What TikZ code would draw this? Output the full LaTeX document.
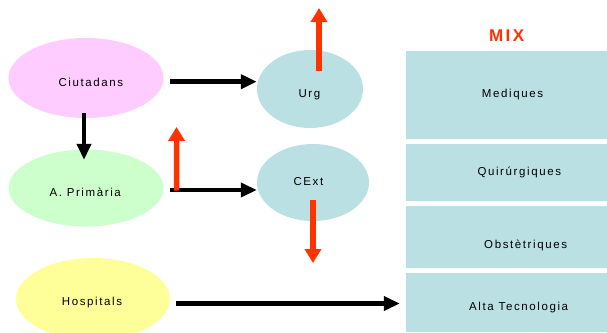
\documentclass[tikz,border=0pt]{standalone}
\usepackage{fontspec}
\setmainfont{Liberation Sans}[LetterSpace=14]
\usetikzlibrary{arrows.meta,shapes.geometric}
\definecolor{citizenpink}{HTML}{FFCCFF}
\definecolor{primarygreen}{HTML}{CCFFCC}
\definecolor{hospyellow}{HTML}{FFFF99}
\definecolor{servteal}{HTML}{BBE0E3}
\definecolor{leakred}{HTML}{FF3300}
\begin{document}
\begin{tikzpicture}[x=1pt,y=1pt,yscale=-1,xscale=1,
  bubble/.style={ellipse,draw=none,inner sep=0pt},
  panel/.style={rectangle,draw=none,fill=servteal,inner sep=0pt,minimum width=201pt},
  caption/.style={anchor=base west,inner sep=0pt,font=\fontsize{11.5}{13}\selectfont},
  flow/.style={line width=4.5pt,-{Triangle[length=16pt,width=14pt]}},
  leak/.style={draw=leakred,line width=5.5pt,-{Triangle[length=14pt,width=16pt]}}]
\useasboundingbox (0,0) rectangle (607,332);

%Shape: Ellipse [id:ciut]
\node [bubble,fill=citizenpink,minimum width=155pt,minimum height=80pt] (ciut) at (86,78) {};
%Shape: Ellipse [id:prim]
\node [bubble,fill=primarygreen,minimum width=155pt,minimum height=77pt] (prim) at (86,188) {};
%Shape: Ellipse [id:hosp]
\node [bubble,fill=hospyellow,minimum width=154pt,minimum height=82pt] (hosp) at (93,299) {};
%Shape: Ellipse [id:urg]
\node [bubble,fill=servteal,minimum width=106pt,minimum height=78pt] (urg) at (310,89) {};
%Shape: Ellipse [id:cext]
\node [bubble,fill=servteal,minimum width=112pt,minimum height=77pt] (cext) at (313,182.5) {};

%Shape: Rectangle [id:med]
\node [panel,minimum height=88pt] (med) at (506.5,95) {};
%Shape: Rectangle [id:quir]
\node [panel,minimum height=57pt] (quir) at (506.5,172.5) {};
%Shape: Rectangle [id:obst]
\node [panel,minimum height=62pt] (obst) at (506.5,237) {};
%Shape: Rectangle [id:alta]
\node [panel,minimum height=59pt] (alta) at (506.5,302.5) {};

%Straight Lines [id:ciut-urg]
\draw [flow] ([xshift=6.5pt,yshift=3.7pt]ciut.east) coordinate (c1) -- (c1 -| urg.west) ;
%Straight Lines [id:ciut-prim]
\draw [flow] ([xshift=-2pt,yshift=-5pt]ciut.south) coordinate (c2) -- ([yshift=10.5pt]c2 |- prim.north) ;
%Straight Lines [id:prim-cext]
\draw [flow] ([xshift=6.5pt,yshift=2pt]prim.east) coordinate (c3) -- (c3 -| cext.west) ;
%Straight Lines [id:hosp-alta]
\draw [flow] ([xshift=6pt,yshift=4.5pt]hosp.east) coordinate (c4) -- ([xshift=-6pt]c4 -| alta.west) ;

%Straight Lines [id:red arrows]
\coordinate (urgout) at (319,8);
\coordinate (primout) at (176.5,127);
\coordinate (cextout) at (313,263);
\draw [leak] ([xshift=9pt,yshift=-18pt]urg.center) -- (urgout) ;
\draw [leak] ([xshift=13pt,yshift=2.5pt]prim.east) -- (primout) ;
\draw [leak] ([yshift=17.5pt]cext.center) -- (cextout) ;

% Text Node
\node [caption] (ciuttxt) at (58.3,86) {Ciutadans};
% Text Node
\node [caption] (primtxt) at (49.3,196.3) {A. Primària};
% Text Node
\node [caption] (hosptxt) at (61.7,305.7) {Hospitals};
% Text Node
\node [caption] (urgtxt) at (298.3,97.3) {Urg};
% Text Node
\node [caption] (cexttxt) at (293.3,185.3) {CExt};
% Text Node
\node [caption] (medtxt) at (481.7,97.3) {Mediques};
% Text Node
\node [caption] (quirtxt) at (477.3,175.3) {Quirúrgiques};
% Text Node
\node [caption] (obsttxt) at (484,248.3) {Obstètriques};
% Text Node
\node [caption] (altatxt) at (469,310.7) {Alta Tecnologia};
% Text Node
\node [caption,text=leakred,font=\fontsize{17}{20}\selectfont\bfseries] (mixtxt) at (489,41) {MIX};

\end{tikzpicture}
\end{document}
